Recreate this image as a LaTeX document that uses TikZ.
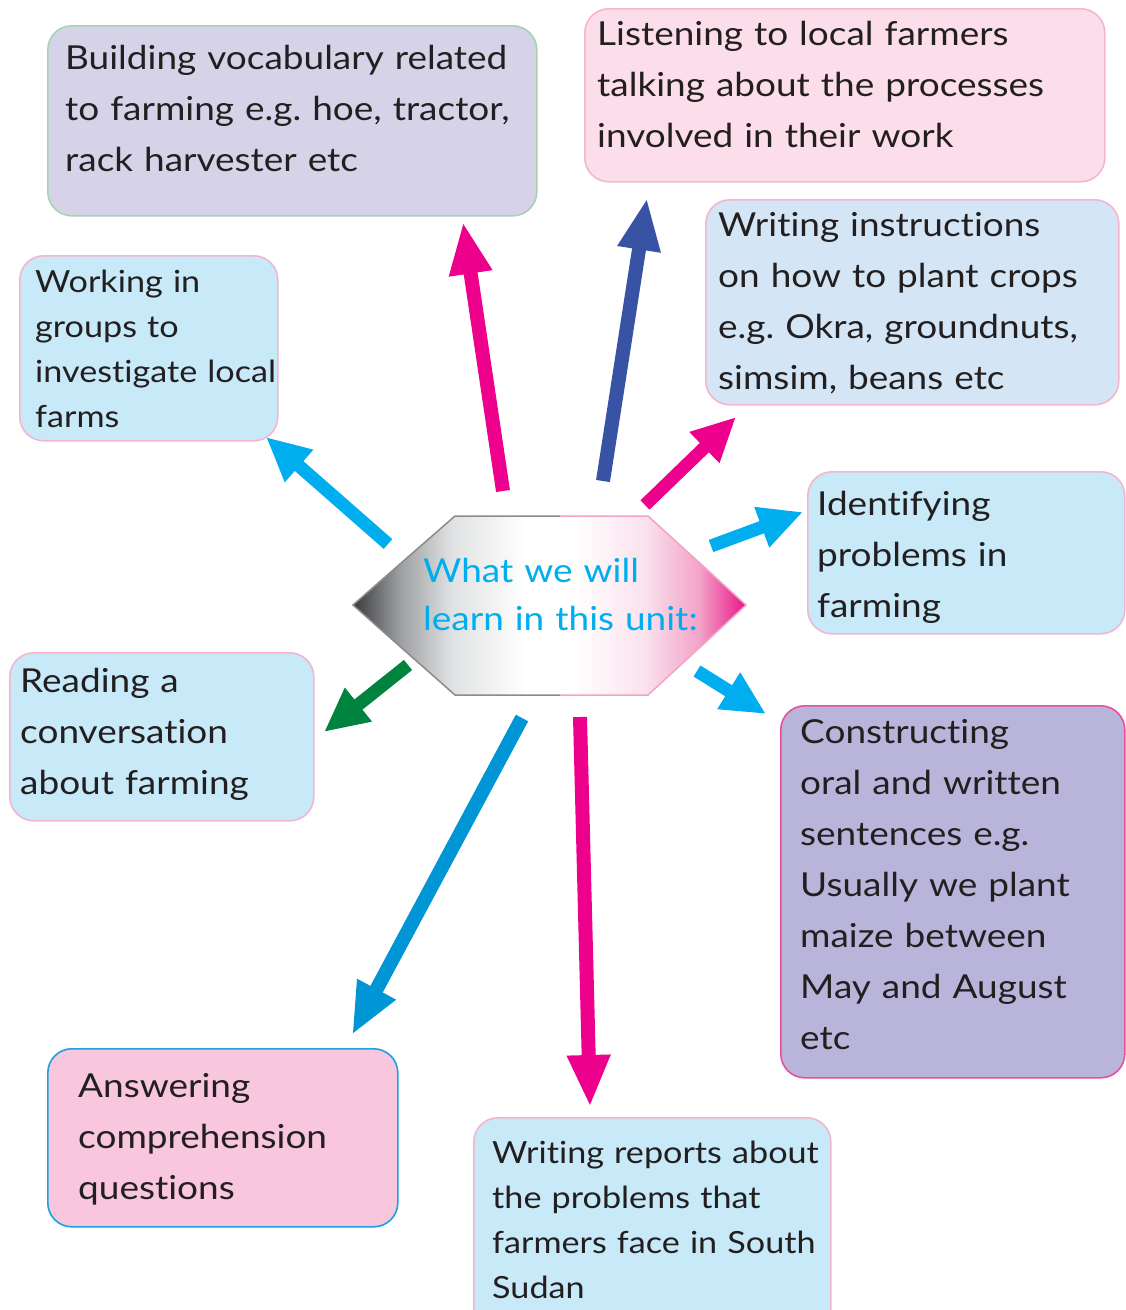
\documentclass[tikz,border=0pt]{standalone}
\usepackage{fontspec}
\setmainfont{Lato}[FakeStretch=1.12, Ligatures={NoCommon,NoContextual,NoRequired}, Contextuals={NoAlternate}]
\usetikzlibrary{arrows.meta}
\definecolor{txtdark}{HTML}{231F20}
\definecolor{cyanA}{HTML}{00AEEF}
\definecolor{magA}{HTML}{EC008C}
\definecolor{navyA}{HTML}{3953A4}
\definecolor{blueA}{HTML}{0096D6}
\definecolor{greenA}{HTML}{00833E}
\definecolor{fillCyan}{HTML}{C7E9F8}
\definecolor{fillSky}{HTML}{D4E6F6}
\definecolor{fillPink}{HTML}{FCDDEA}
\definecolor{fillLav}{HTML}{D6D3E9}
\definecolor{fillPurp}{HTML}{B9B4DA}
\definecolor{fillRose}{HTML}{F8C6DD}
\definecolor{bdPink}{HTML}{F5B5CF}
\definecolor{bdGreen}{HTML}{A5D3B4}
\definecolor{bdMag}{HTML}{E8509A}
\definecolor{bdBlue}{HTML}{1CA1DC}
\definecolor{hA}{HTML}{3B3B3D}
\definecolor{hB}{HTML}{9D9FA2}
\definecolor{hC}{HTML}{E0E1E2}
\definecolor{hD}{HTML}{FBE3EE}
\definecolor{hE}{HTML}{F3A3C8}
\definecolor{hF}{HTML}{E8168A}
\definecolor{hexGray}{HTML}{8A8B8D}
\pgfdeclarehorizontalshading{hexshade}{100bp}{color(0bp)=(hA); color(25bp)=(hA); color(31bp)=(hB); color(37.5bp)=(hC); color(47bp)=(white); color(53bp)=(white); color(62bp)=(hD); color(69bp)=(hE); color(75bp)=(hF); color(100bp)=(hF)}
\tikzset{
  box/.style={rounded corners=24pt, line width=1.6pt, inner sep=0pt, anchor=north west},
  txt/.style={anchor=base west, inner sep=0pt, text width=620pt, align=left, text=txtdark, font=\fontsize{33}{51}\selectfont\frenchspacing},
  txtsmall/.style={txt, font=\fontsize{30.5}{45}\selectfont\frenchspacing},
  arr/.style={line width=14pt, -{Triangle[width=40pt,length=52pt]}},
  arrs/.style={line width=13pt, -{Triangle[width=40pt,length=44pt]}}
}
\begin{document}
\begin{tikzpicture}[x=1pt,y=-1pt]
\useasboundingbox (0,0) rectangle (1126,1310);

% boxes
\node[box, fill=fillLav, draw=bdGreen, minimum width=489pt, minimum height=190pt] (b1) at (47,25) {};
\node[box, fill=fillPink, draw=bdPink, minimum width=520pt, minimum height=173pt] (b2) at (584,8) {};
\node[box, fill=fillSky, draw=bdPink, minimum width=413pt, minimum height=205pt] (b3) at (705,199) {};
\node[box, fill=fillCyan, draw=bdPink, minimum width=258pt, minimum height=185pt] (b4) at (19,255) {};
\node[box, fill=fillCyan, draw=bdPink, minimum width=317pt, minimum height=162pt] (b5) at (807,471) {};
\node[box, fill=fillCyan, draw=bdPink, minimum width=304pt, minimum height=168pt] (b6) at (9,652) {};
\node[box, fill=fillPurp, draw=bdMag, minimum width=344pt, minimum height=372pt] (b7) at (780,705) {};
\node[box, fill=fillRose, draw=bdBlue, minimum width=350pt, minimum height=178pt] (b8) at (47,1048) {};
\node[box, fill=fillCyan, draw=bdPink, minimum width=357pt, minimum height=230pt] (b9) at (473,1117) {};

% texts
\node[txt] (t1) at (65,69) {Building vocabulary related\\to farming e.g. hoe, tractor,\\rack harvester etc};
\node[txt] (t2) at (597,45) {Listening to local farmers\\talking about the processes\\involved in their work};
\node[txt] (t3) at (718,236) {Writing instructions\\on how to plant crops\\e.g. Okra, groundnuts,\\simsim, beans etc};
\node[txtsmall] (t4) at (35,292) {Working in\\groups to\\investigate local\\farms};
\node[txt] (t5) at (817,515) {Identifying\\problems in\\farming};
\node[txt] (t6) at (20,692) {Reading a\\conversation\\about farming};
\node[txt] (t7) at (800,743) {Constructing\\oral and written\\sentences e.g.\\Usually we plant\\maize between\\May and August\\etc};
\node[txt] (t8) at (78,1097) {Answering\\comprehension\\questions};
\node[txtsmall] (t9) at (492,1163) {Writing reports about\\the problems that\\farmers face in South\\Sudan};

% central hexagon
\coordinate (h1) at (353,605);
\coordinate (h2) at (455,516);
\coordinate (h3) at (648,516);
\coordinate (h4) at (746,605);
\coordinate (h5) at (648,695);
\coordinate (h6) at (455,695);
\coordinate (hm1) at (560,516);
\coordinate (hm2) at (560,695);
\path[shading=hexshade] (h1) -- (h2) -- (h3) -- (h4) -- (h5) -- (h6) -- cycle;
\draw[hexGray, line width=1.5pt, line join=miter] (hm2) -- (h6) -- (h1) -- (h2) -- (hm1);
\draw[hE, line width=1.5pt, line join=miter] (hm1) -- (h3) -- (h4) -- (h5) -- (hm2);
\node[txt, text=cyanA, font=\fontsize{33}{48}\selectfont, text width=330pt] (hub) at (423,582) {What we will\\learn in this unit:};

% arrow end points
\coordinate (a1s) at (503,491); \coordinate (a1e) at (463,222);
\coordinate (a2s) at (603,481); \coordinate (a2e) at (647,198);
\coordinate (a3s) at (645,505); \coordinate (a3e) at (736,417);
\coordinate (a4s) at (388,544); \coordinate (a4e) at (266,437);
\coordinate (a5s) at (711,546); \coordinate (a5e) at (803,512);
\coordinate (a6s) at (408,665); \coordinate (a6e) at (324,732);
\coordinate (a7s) at (697,671); \coordinate (a7e) at (766,714);
\coordinate (a8s) at (522,718); \coordinate (a8e) at (352,1035);
\coordinate (a9s) at (580,717); \coordinate (a9e) at (590,1107);

\draw[arr, magA] (a1s) -- (a1e);
\draw[arr, navyA] (a2s) -- (a2e);
\draw[arrs, magA] (a3s) -- (a3e);
\draw[arrs, cyanA] (a4s) -- (a4e);
\draw[arrs, cyanA] (a5s) -- (a5e);
\draw[arrs, greenA] (a6s) -- (a6e);
\draw[arrs, cyanA] (a7s) -- (a7e);
\draw[arr, blueA] (a8s) -- (a8e);
\draw[arr, magA] (a9s) -- (a9e);
\end{tikzpicture}
\end{document}
